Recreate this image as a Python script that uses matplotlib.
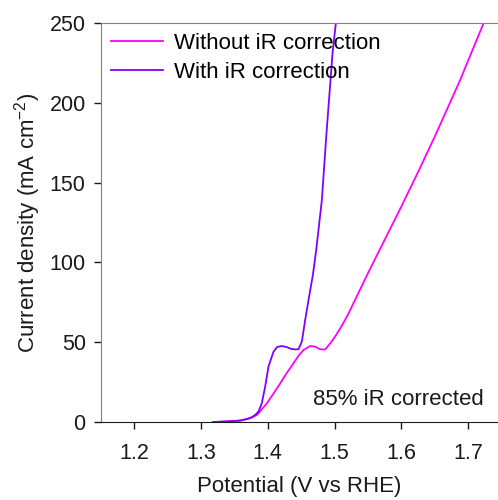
import matplotlib
matplotlib.use("Agg")
import matplotlib.pyplot as plt

plt.rcParams["font.family"] = ["Liberation Sans", "DejaVu Sans"]

# LSV data, potential in V vs RHE, current density in mA cm-2
potential_raw = [1.318, 1.33, 1.34, 1.35, 1.36, 1.37, 1.376, 1.3836, 1.39, 1.3986,
                 1.408, 1.4186, 1.428, 1.4385, 1.446, 1.4535, 1.4636, 1.471, 1.4786,
                 1.486, 1.4936, 1.5008, 1.5086, 1.5186, 1.5236, 1.551, 1.5975,
                 1.625, 1.651, 1.688, 1.7235]
current_raw = [0.0, 0.2, 0.4, 0.7, 1.1, 1.9, 2.8, 4.4, 7.5, 11.7,
               17.5, 24.2, 30.5, 36.8, 41.5, 45.1, 47.6, 47.2, 45.5,
               45.5, 49.3, 53.5, 58.7, 66.0, 70.3, 94.0, 132.8,
               156.4, 179.5, 214.0, 250.0]

potential_ir = [1.318, 1.33, 1.34, 1.35, 1.3586, 1.3686, 1.376, 1.381, 1.386, 1.391,
                1.396, 1.401, 1.4085, 1.414, 1.421, 1.428, 1.435, 1.441, 1.446,
                1.451, 1.456, 1.461, 1.4675, 1.4726, 1.481, 1.4876, 1.497, 1.502]
current_ir = [0.0, 0.2, 0.4, 0.6, 0.8, 1.9, 3.0, 4.4, 6.5, 11.7,
              22.1, 34.7, 44.0, 47.0, 47.6, 47.0, 45.8, 45.5, 45.6,
              50.3, 63.9, 76.4, 92.0, 108.0, 139.0, 179.0, 231.0, 250.0]

x_ticks = [1.2, 1.3, 1.4, 1.5, 1.6, 1.7]
y_ticks = [0, 50, 100, 150, 200, 250]

fig = plt.figure(figsize=(4.98, 5.0), dpi=100)
ax = fig.add_axes([101 / 498, 78 / 500, 397 / 498, 399 / 500])

ax.plot(potential_raw, current_raw, color="#ff00ff", lw=1.3,
        label="Without iR correction")
ax.plot(potential_ir, current_ir, color="#8000ff", lw=1.3,
        label="With iR correction")

ax.set_xlim(1.15, 1.745)
ax.set_ylim(0, 250)
ax.set_xticks(x_ticks)
ax.set_yticks(y_ticks)
ax.set_xticklabels([f"{t:.1f}" for t in x_ticks])
ax.tick_params(axis="both", direction="out", length=5, width=1,
               labelsize=15.5, colors="#1a1a1a", pad=6)
ax.tick_params(axis="x", pad=10)

ax.spines["right"].set_visible(False)
ax.spines["top"].set_color("#808080")
ax.spines["left"].set_color("#808080")
ax.spines["bottom"].set_color("#1a1a1a")

ax.set_xlabel("Potential (V vs RHE)", fontsize=16, color="#1a1a1a", labelpad=9)
ax.set_ylabel("Current density (mA cm$^{\\mathregular{-2}}$)", fontsize=16,
              color="#1a1a1a", labelpad=5)

ax.legend(loc="upper left", frameon=False, fontsize=16, handlelength=2.35,
          handletextpad=0.5, labelspacing=0.35, borderaxespad=0.3,
          borderpad=0.15)

ax.text(0.963, 0.03, "85% iR corrected", transform=ax.transAxes,
        fontsize=16, color="#1a1a1a", ha="right", va="bottom")

fig.savefig("out.png", dpi=100)
